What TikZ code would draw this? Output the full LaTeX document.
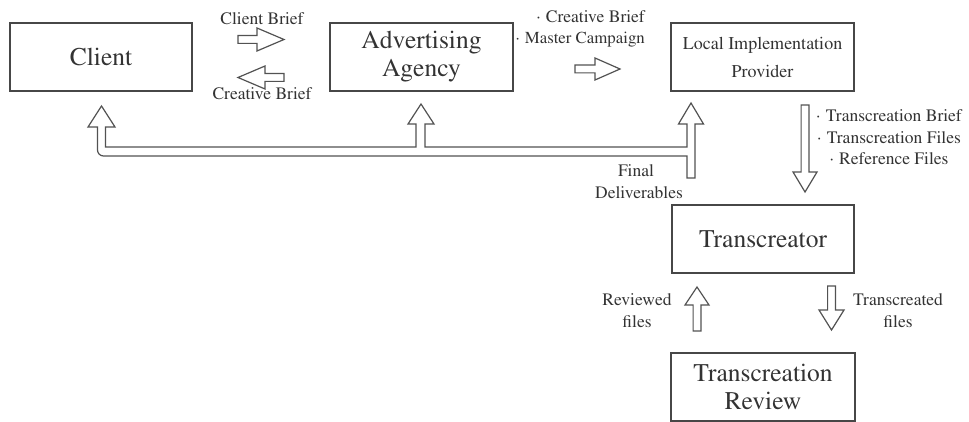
\documentclass[tikz,border=0pt]{standalone}
\usepackage[T1]{fontenc}
\usepackage{mathptmx}
\begin{document}
\begin{tikzpicture}[x=1pt,y=-1pt,
  ink/.style={text=black!80},
  box/.style={draw=black!72,line width=1.3pt,minimum width=183pt,minimum height=68pt,
    inner sep=0pt,align=center,ink},
  bigtxt/.style={font=\rmfamily\fontsize{25.5}{28}\selectfont},
  midtxt/.style={font=\rmfamily\fontsize{18}{28}\selectfont},
  lbl/.style={font=\rmfamily\fontsize{17.5}{21.5}\selectfont,ink,inner sep=0pt},
  arrowline/.style={draw=black!68,line width=1.2pt,line join=miter,fill=white},
  pics/blockarrow/.style n args={3}{code={
    % hollow block arrow along +x: length #1, head length #2, head half width #3
    \draw[arrowline] (0,-3.9) -- ({#1-#2},-3.9) -- ({#1-#2},-#3) -- (#1,0)
      -- ({#1-#2},#3) -- ({#1-#2},3.9) -- (0,3.9) -- cycle;
  }}]
\newcommand\bul{\textperiodcentered\hspace{0.3em}}
\useasboundingbox (0,0) rectangle (969,422);

% boxes
\node[box,bigtxt,minimum width=182pt] (client) at (101,57) {Client};
\node[box,bigtxt] (agency) at (421.5,57) {Advertising\\Agency};
\node[box,midtxt] (lip) at (762.5,57) {Local Implementation\\Provider};
\node[box,bigtxt,minimum width=182pt] (trans) at (763,239) {Transcreator};
\node[box,bigtxt,minimum width=184pt] (review) at (763,387) {Transcreation\\Review};

% client <-> agency
\pic at (238,39.5) {blockarrow={46}{27}{11.5}};
\pic[rotate=180] at (284,77.5) {blockarrow={46}{27}{11.5}};
\node[lbl,anchor=base] (cb1) at (262,25) {Client Brief};
\node[lbl,anchor=base] (cb2) at (262,100) {Creative Brief};

% agency -> local implementation provider
\pic at (575,69) {blockarrow={45}{25}{11}};
\node[lbl,anchor=base east] (ag1) at (645,23) {\bul Creative Brief};
\node[lbl,anchor=base east,font=\rmfamily\fontsize{16.8}{21}\selectfont] (ag2) at (645,44) {\bul Master Campaign};

% local implementation provider -> transcreator
\pic[rotate=-90] at (805,105) {blockarrow={87}{20}{12}};
\node[lbl,anchor=base] (tb) at (889,122) {\bul Transcreation Brief};
\node[lbl,anchor=base] (tf) at (889,143.5) {\bul Transcreation Files};
\node[lbl,anchor=base] (rf) at (889,165) {\bul Reference Files};

% final deliverables: branching pipe back to all three parties
\draw[arrowline]
  (695,178) -- (695,124) -- (703.5,124) -- (691,103) -- (678.5,124) -- (687,124)
  -- (687,147) -- (425,147) -- (425,124) -- (434,124) -- (421,104) -- (408,124)
  -- (416,124) -- (416,147) -- (105.5,147) -- (105.5,127) -- (115,127)
  -- (101.5,106) -- (88,127) -- (97.5,127) -- (97.5,150)
  arc[start angle=180,end angle=90,x radius=6pt,y radius=-6pt]
  -- (687,156) -- (687,178) -- cycle;
\node[lbl,anchor=base] (fd1) at (636,177) {Final};
\node[lbl,anchor=base] (fd2) at (639,199) {Deliverables};

% transcreator <-> review
\pic[rotate=90] at (697,331) {blockarrow={44}{18}{12}};
\pic[rotate=-90] at (831.5,286) {blockarrow={44}{20}{12.5}};
\node[lbl,anchor=base] (rv1) at (637,305) {Reviewed};
\node[lbl,anchor=base] (rv2) at (637,327) {files};
\node[lbl,anchor=base] (tc1) at (898,305) {Transcreated};
\node[lbl,anchor=base] (tc2) at (898,327) {files};
\end{tikzpicture}
\end{document}
